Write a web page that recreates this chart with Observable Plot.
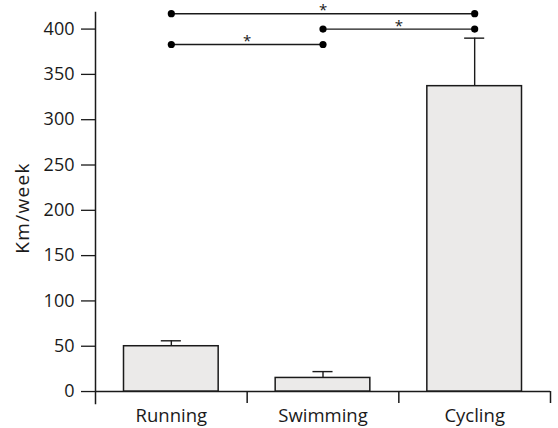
<!DOCTYPE html>
<html>
<head>
<meta charset="utf-8">
<script src="https://cdn.jsdelivr.net/npm/d3@7"></script>
<script src="https://cdn.jsdelivr.net/npm/@observablehq/plot@0.6"></script>
<style>
  html, body { margin: 0; padding: 0; background: #fff; }
  #chart svg { display: block; }
</style>
</head>
<body>
<div id="chart"></div>
<script>
// ---- data ----
const categories = ["Running", "Swimming", "Cycling"];
const means = [50, 15, 337];
const errors = [6, 7, 53];
const yTicks = [0, 50, 100, 150, 200, 250, 300, 350, 400];
const yLabel = "Km/week";

// significance comparisons
const compFrom = ["Running", "Swimming", "Running"];
const compTo = ["Cycling", "Cycling", "Swimming"];
const compY = [417, 400, 383];
const compLabel = ["*", "*", "*"];

// ---- derived tables ----
const idx = c => categories.indexOf(c);
const bars = categories.map((c, i) => ({i, cat: c, mean: means[i], top: means[i] + errors[i]}));
const comps = compFrom.map((f, k) => ({a: idx(f), b: idx(compTo[k]), y: compY[k], label: compLabel[k]}));
const compEnds = comps.flatMap(d => [{x: d.a, y: d.y}, {x: d.b, y: d.y}]);
const boundaries = categories.map((c, i) => ({x: i + 0.5}));

const font = "'Open Sans', sans-serif";
const ink = "#1a1a1a";

const chart = Plot.plot({
  width: 558,
  height: 428,
  marginLeft: 95,
  marginRight: 8,
  marginTop: 12,
  marginBottom: 25,
  style: {fontFamily: font, color: ink, background: "#fff"},
  x: {domain: [-0.5, categories.length - 0.5], axis: null},
  y: {domain: [-13.2, 418.3], axis: null},
  marks: [
    // y axis line
    Plot.frame({anchor: "left", stroke: ink, strokeWidth: 1.5}),
    // x axis line at zero
    Plot.ruleY([0], {stroke: ink, strokeWidth: 1.5}),
    // boundary ticks below the x axis
    Plot.ruleX(boundaries, {x: "x", y1: 0, y2: -13.2, stroke: ink, strokeWidth: 1.5}),
    // y axis ticks and labels
    Plot.axisY({ticks: yTicks, tickSize: 14, tickPadding: 7, fontSize: 18, stroke: ink, strokeWidth: 1.3, label: null, tickFormat: d => String(d)}),
    // x category labels
    Plot.axisX({ticks: categories.map((c, i) => i), tickFormat: i => categories[i], tickSize: 0, tickPadding: 5, fontSize: 18.5, label: null}),
    // y label
    Plot.text([yLabel], {frameAnchor: "left", textAnchor: "middle", dx: -73, rotate: -90, fontSize: 19, fill: ink}),
    // bars
    Plot.rectY(bars, {x1: d => d.i - 0.5, x2: d => d.i + 0.5, y1: 0, y2: "mean", insetLeft: 28.5, insetRight: 28.5, fill: "#ebeae9", stroke: ink, strokeWidth: 1.5}),
    // error bars
    Plot.ruleX(bars, {x: "i", y1: "mean", y2: "top", stroke: ink, strokeWidth: 1.4}),
    Plot.ruleY(bars, {y: "top", x1: d => d.i - 0.5, x2: d => d.i + 0.5, insetLeft: 65.8, insetRight: 65.8, stroke: ink, strokeWidth: 1.4}),
    // significance brackets
    Plot.link(comps, {x1: "a", x2: "b", y1: "y", y2: "y", stroke: ink, strokeWidth: 1.4}),
    Plot.dot(compEnds, {x: "x", y: "y", r: 3.6, fill: "#000", stroke: null}),
    Plot.text(comps, {x: d => (d.a + d.b) / 2, y: "y", text: "label", dy: -3, fontSize: 15, fill: ink})
  ]
});
// widen the y label slightly to match the reference lettering
d3.select(chart).selectAll("text").filter(function() { return this.textContent === yLabel; })
  .attr("letter-spacing", "1.3px");
document.getElementById("chart").appendChild(chart);
</script>
</body>
</html>
